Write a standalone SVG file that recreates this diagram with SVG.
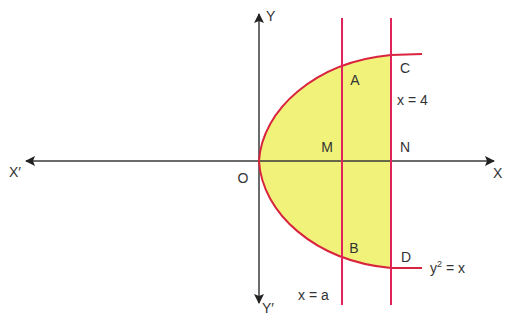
<svg xmlns="http://www.w3.org/2000/svg" width="506" height="320" viewBox="0 0 506 320">
<style>
.axis{stroke:#3a3a3a;stroke-width:1.5;fill:none}
.red{stroke:#d9243f;stroke-width:2;fill:none}
.vline{stroke:#e0245a;stroke-width:2;fill:none}
text{font-family:"Liberation Sans",Arial,sans-serif;font-size:14px;fill:#333}
.c{text-anchor:middle}
</style>
<defs>
<marker id="arr" viewBox="0 0 10 10" refX="9" refY="5" markerWidth="10" markerHeight="10" markerUnits="userSpaceOnUse" orient="auto">
<path d="M0,0 L10,5 L0,10 L2,5 Z" fill="#222"/>
</marker>
</defs>
<g id="region">
<path d="M259,161 C262,110 315,62 391,55 L391,268 C315,261 262,213 259,161 Z" fill="#f0f27a" stroke="none"/>
</g>
<g id="connectors">
<line class="axis" x1="259" y1="161" x2="26" y2="161" marker-end="url(#arr)"/>
<line class="axis" x1="259" y1="161" x2="494" y2="161" marker-end="url(#arr)"/>
<line class="axis" x1="259" y1="161" x2="259" y2="14" marker-end="url(#arr)"/>
<line class="axis" x1="259" y1="161" x2="259" y2="303" marker-end="url(#arr)"/>
<path class="red" d="M422,54 L391,55 C315,62 262,110 259,161 C262,213 315,261 391,268 L422,268"/>
<line class="vline" x1="342" y1="18" x2="342" y2="305"/>
<line class="vline" x1="391" y1="18" x2="391" y2="305"/>
</g>
<g id="labels">
<text x="266" y="21">Y</text>
<text x="262" y="313">Y′</text>
<text x="9" y="177">X′</text>
<text x="493" y="178">X</text>
<text class="c" x="243" y="183">O</text>
<text class="c" x="327" y="152">M</text>
<text class="c" x="405" y="152">N</text>
<text class="c" x="355" y="85">A</text>
<text class="c" x="405" y="73">C</text>
<text x="397" y="105">x = 4</text>
<text class="c" x="354" y="253">B</text>
<text class="c" x="406" y="262">D</text>
<text x="430" y="273">y<tspan font-size="9" dy="-6">2</tspan><tspan dy="6"> = x</tspan></text>
<text x="298" y="300">x = a</text>
</g>
</svg>
